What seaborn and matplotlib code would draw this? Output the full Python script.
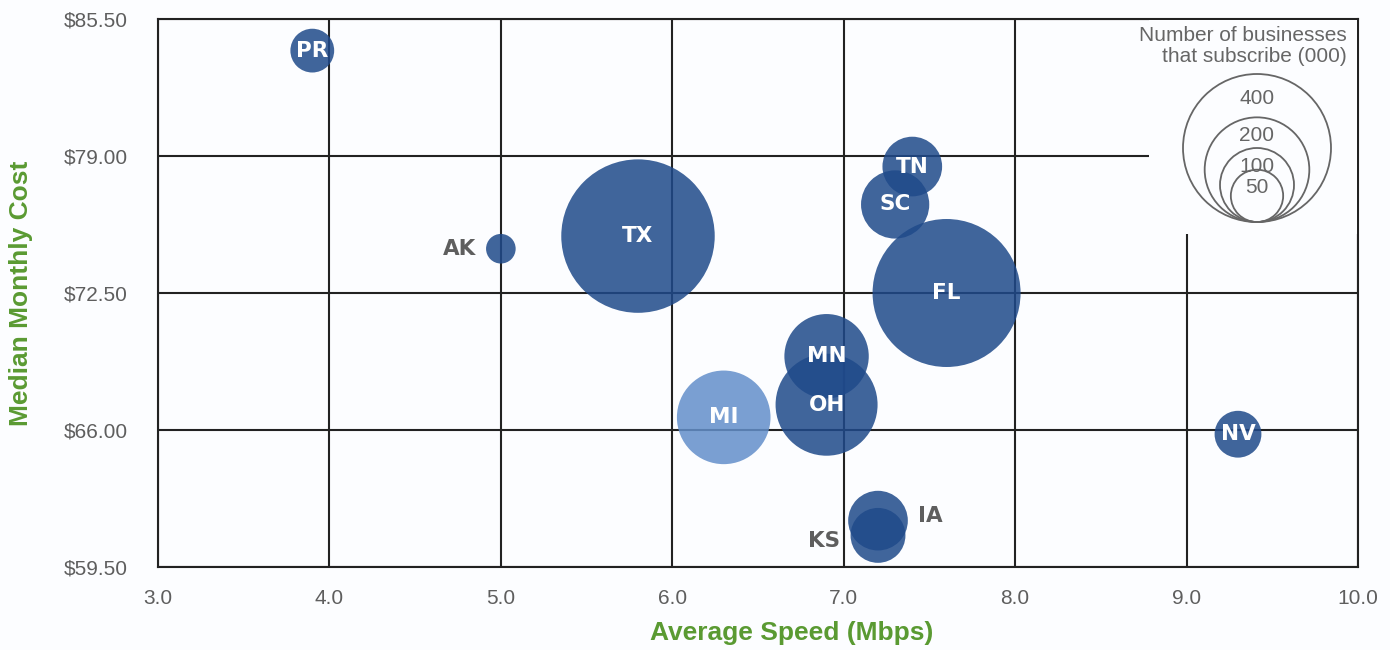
import numpy as np
import pandas as pd
import matplotlib
matplotlib.use("Agg")
import matplotlib.pyplot as plt
from matplotlib.patches import Circle
import seaborn as sns

# data
states = ["PR", "TN", "SC", "AK", "TX", "FL", "MN", "OH", "MI", "NV", "IA", "KS"]
speed = [3.9, 7.4, 7.3, 5.0, 5.8, 7.6, 6.9, 6.9, 6.3, 9.3, 7.2, 7.2]
cost = [84.0, 78.5, 76.7, 74.6, 75.2, 72.5, 69.5, 67.2, 66.6, 65.8, 61.7, 61.0]
businesses = [35, 65, 85, 16, 430, 400, 130, 190, 160, 40, 65, 55]
group = ["base"] * 8 + ["highlight"] + ["base"] * 3
legend_values = [400, 200, 100, 50]
xticks = [3.0, 4.0, 5.0, 6.0, 7.0, 8.0, 9.0, 10.0]
yticks = [59.5, 66.0, 72.5, 79.0, 85.5]

df = pd.DataFrame({"state": states, "speed": speed, "cost": cost,
                   "businesses": businesses, "group": group})

sns.set_style("white")
plt.rcParams["font.family"] = ["Liberation Sans", "DejaVu Sans"]

BG = "#fcfdff"
GRID = "#222222"
GREEN = "#5a9a32"
GREY = "#5e5e5e"
K_PX = 3.7            # bubble radius in pixels per sqrt(thousand businesses)
K_S = (2 * K_PX * 0.72) ** 2   # scatter area in pt^2 per thousand

fig = plt.figure(figsize=(13.9, 6.5), dpi=100, facecolor=BG)
ax = fig.add_axes([158 / 1390, 1 - 567 / 650, 1200 / 1390, 548 / 650])
ax.set_facecolor(BG)

vmax = max(businesses)
sns.scatterplot(data=df, x="speed", y="cost", size="businesses", hue="group",
                palette={"base": "#1f4a8a", "highlight": "#638fca"},
                sizes=(0, K_S * vmax), size_norm=(0, vmax),
                alpha=0.85, linewidth=0, legend=False, ax=ax, zorder=3)

outside = {"AK": (-30, 0), "KS": (-39, -4), "IA": (38, 3)}
for s, x, y in zip(states, speed, cost):
    if s in outside:
        ax.annotate(s, (x, y), xytext=outside[s], textcoords="offset points",
                    ha="center", va="center", fontsize=15.5, fontweight="bold",
                    color=GREY, family="DejaVu Sans", zorder=4)
    else:
        ax.text(x, y, s, ha="center", va="center", fontsize=15.5,
                fontweight="bold", color="white", family="DejaVu Sans", zorder=4)

ax.set_xlim(3, 10)
ax.set_ylim(59.5, 85.5)
ax.set_xticks(xticks)
ax.set_yticks(yticks)
ax.set_xticklabels([f"{v:.1f}" for v in xticks])
ax.set_yticklabels([f"${v:.2f}" for v in yticks])
ax.tick_params(length=0, labelsize=15, labelcolor=GREY)
ax.tick_params(axis="y", pad=22)
ax.tick_params(axis="x", pad=16)
ax.grid(True, color=GRID, linewidth=1.5, zorder=1)
ax.set_axisbelow(True)
for sp in ax.spines.values():
    sp.set_color(GRID)
    sp.set_linewidth(1.5)

ax.set_xlabel("Average Speed (Mbps)", fontsize=19, fontweight="bold", color=GREEN)
ax.set_ylabel("Median Monthly Cost", fontsize=19, fontweight="bold", color=GREEN)
ax.xaxis.set_label_coords(0.528, -0.098)
ax.yaxis.set_label_coords(-0.104, 0.5)

# size legend in its own pixel-unit axes, covering the grid behind it
lx0, lx1, ly0, ly1 = 1149, 1357, 20, 234
lax = fig.add_axes([lx0 / 1390, 1 - ly1 / 650, (lx1 - lx0) / 1390, (ly1 - ly0) / 650])
lax.set_facecolor(BG)
lax.set_xlim(lx0, lx1)
lax.set_ylim(ly1, ly0)
lax.axis("off")
lax.add_patch(plt.Rectangle((lx0, ly0), lx1 - lx0, ly1 - ly0, color=BG, zorder=0))
cx, bottom = 1257, 222
for v in legend_values:
    r = K_PX * np.sqrt(v)
    lax.add_patch(Circle((cx, bottom - r), r, fill=False, edgecolor="#666666",
                         linewidth=1.3))
    top = bottom - 2 * r
    lax.text(cx, top + (24 if v == 400 else 18), str(v), ha="center", va="center",
             fontsize=15, color="#666666")
lax.text(1347, 46, "Number of businesses\nthat subscribe (000)", ha="right",
         va="center", fontsize=15, color="#666666", linespacing=1.1)

fig.savefig("out.png", dpi=100, facecolor=BG)
